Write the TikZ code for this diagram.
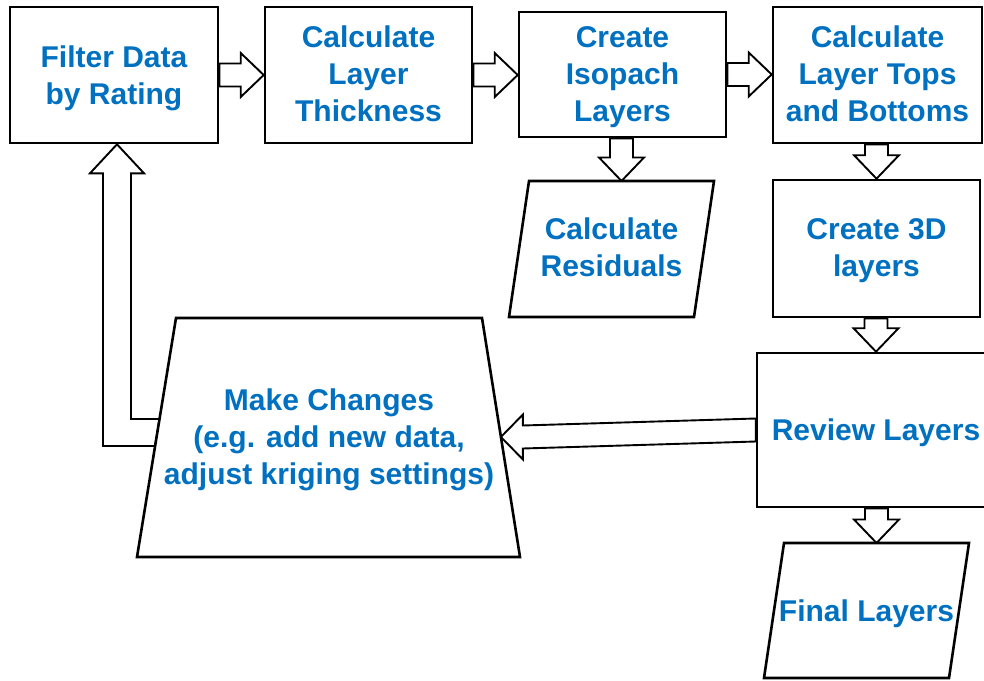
\documentclass[tikz,border=0pt]{standalone}
\usepackage{fontspec}
\setmainfont{Liberation Sans}
\usetikzlibrary{calc,backgrounds}
\definecolor{txtblue}{HTML}{0070C0}
\newcommand{\rarrow}[2]{\draw[arr] let \p1=(#1), \p2=(#2) in (\x1,\y1+11.5pt) -- (\x2-23pt,\y1+11.5pt) -- (\x2-23pt,\y1+22pt) -- (\x2,\y1) -- (\x2-23pt,\y1-22pt) -- (\x2-23pt,\y1-11.5pt) -- (\x1,\y1-11.5pt) -- cycle;}
\newcommand{\darrow}[2]{\draw[arr] let \p1=(#1), \p2=(#2) in (\x2-11.5pt,\y1) -- (\x2-11.5pt,\y2+23.5pt) -- (\x2-22.5pt,\y2+23.5pt) -- (\x2,\y2) -- (\x2+22.5pt,\y2+23.5pt) -- (\x2+11.5pt,\y2+23.5pt) -- (\x2+11.5pt,\y1) -- cycle;}
\begin{document}
\begin{tikzpicture}[x=1pt,y=-1pt,
  txt/.style={text=txtblue, font=\bfseries\fontsize{30}{37}\selectfont, align=center, inner sep=0pt},
  box/.style={draw=black, line width=2.6pt, fill=white, inner sep=0pt, line join=miter},
  arr/.style={draw=black, line width=1.9pt, fill=white, line join=miter}]
\useasboundingbox (0,0) rectangle (984,680);
% rectangular boxes
\node[box,minimum width=208pt,minimum height=136pt] (b1) at (114,75) {};
\node[box,minimum width=207pt,minimum height=136pt] (b2) at (368.5,75) {};
\node[box,minimum width=207pt,minimum height=125pt] (b3) at (622.5,74.5) {};
\node[box,minimum width=209pt,minimum height=136pt] (b4) at (877.5,75) {};
\node[box,minimum width=207pt,minimum height=137pt] (b6) at (876.5,248.5) {};
\node[box,minimum width=238pt,minimum height=154pt] (b7) at (876,430) {};
\node[txt] (t1) at ($(b1.center)+(0,3)$) {Filter Data\\by Rating};
\node[txt] (t2) at ($(b2.center)+(0,-1)$) {Calculate\\Layer\\Thickness};
\node[txt] (t3) at ($(b3.center)+(0,2.7)$) {Create\\Isopach\\Layers};
\node[txt] (t4) at ($(b4.center)+(0,-1)$) {Calculate\\Layer Tops\\and Bottoms};
\node[txt] (t6) at ($(b6.center)+(0,2.5)$) {Create 3D\\layers};
\node[txt] (t7) at ($(b7.center)+(0,3)$) {Review Layers};
% Calculate Residuals (parallelogram)
\coordinate (rTL) at (529,181); \coordinate (rTR) at (714,181);
\coordinate (rBR) at (694,317); \coordinate (rBL) at (509,317);
\draw[box] (rTL) -- (rTR) -- (rBR) -- (rBL) -- cycle;
\node[txt] (res) at (611.5,247.5) {Calculate\\Residuals};
\coordinate (resTop) at ($(rTL)!0.5!(rTR)$);
% Make Changes (trapezoid)
\coordinate (mcTL) at (176,318); \coordinate (mcTR) at (482,318);
\coordinate (mcBR) at (520,557); \coordinate (mcBL) at (137,557);
\draw[box] (mcTL) -- (mcTR) -- (mcBR) -- (mcBL) -- cycle;
\node[txt] (mc) at (329,440) {Make Changes\\(e.g. add new data,\\adjust kriging settings)};
\coordinate (mcR) at ($(mcTR)!0.4979!(mcBR)$);
\coordinate (fbIn) at ($(mcTL)!0.4226!(mcBL)$);
\coordinate (fbOut) at ($(mcTL)!0.5356!(mcBL)$);
% Final Layers (parallelogram)
\coordinate (fTL) at (784,543); \coordinate (fTR) at (969,543);
\coordinate (fBR) at (949,678); \coordinate (fBL) at (764,678);
\draw[box] (fTL) -- (fTR) -- (fBR) -- (fBL) -- cycle;
\node[txt] (fin) at (866.5,614) {Final Layers};
\coordinate (finTop) at ($(fTL)!0.5!(fTR)$);
\coordinate (fbTip) at ($(b1.south)+(3,0)$);
% block arrows
\begin{scope}[on background layer]
\rarrow{b1.east}{b2.west}
\rarrow{b2.east}{b3.west}
\rarrow{b3.east}{b4.west}
\darrow{b3.south}{resTop}
\darrow{b4.south}{b6.north}
\darrow{b6.south}{b7.north}
\darrow{b7.south}{finTop}
\draw[arr] let \p1=(b7.west), \p2=(mcR) in (\x1,\y1+11.5pt) -- (\x2+22pt,\y2+11.5pt) -- (\x2+22pt,\y2+22.5pt) -- (\x2,\y2) -- (\x2+22pt,\y2-22.5pt) -- (\x2+22pt,\y2-11.5pt) -- (\x1,\y1-11.5pt) -- cycle;
\draw[arr] let \p1=(fbTip), \p2=(fbIn), \p3=(fbOut) in (\x2,\y2) -- (\x1+14pt,\y2) -- (\x1+14pt,\y1-29pt) -- (\x1+27pt,\y1-29pt) -- (\x1,\y1) -- (\x1-27pt,\y1-29pt) -- (\x1-14pt,\y1-29pt) -- (\x1-14pt,\y3) -- (\x3,\y3) -- cycle;
\end{scope}
\end{tikzpicture}
\end{document}
